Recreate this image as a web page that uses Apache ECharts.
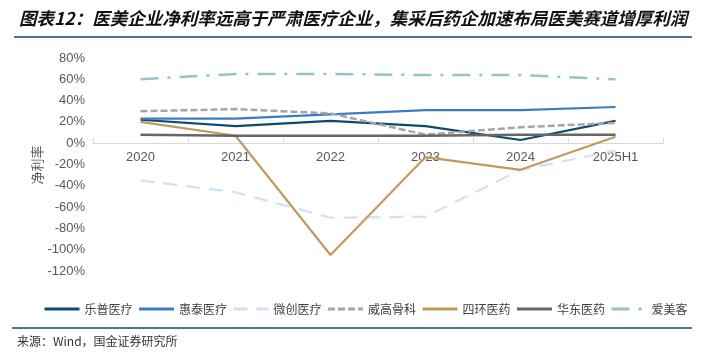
<!DOCTYPE html>
<html><head><meta charset="utf-8">
<script src="https://cdn.jsdelivr.net/npm/echarts@6/dist/echarts.min.js"></script>
<style>html,body{margin:0;padding:0;background:#fff}#c{width:707px;height:357px}</style>
</head><body><div id="c"></div>
<script>
const categories = ['2020','2021','2022','2023','2024','2025H1'];
const lepu = [22, 16, 21, 16, 3, 21];
const huitai = [23, 23, 27, 31, 31, 34];
const weichuang = [-35, -46, -70, -69, -25, -7];
const weigao = [30, 32, 28, 8, 15, 19];
const sihuan = [20, 7, -105, -13, -25, 6];
const huadong = [8, 7, 7, 7, 8, 8];
const aimeike = [60, 65, 65, 64, 64, 60];
const seriesNames = ['乐普医疗','惠泰医疗','微创医疗','威高骨科','四环医药','华东医药','爱美客'];

const styles = [
  {color:'#0d4a6e', type:'solid', width:2.2},
  {color:'#3e7cc0', type:'solid', width:2.2},
  {color:'#cfe2f3', type:[14,9], width:2.2},
  {color:'#a6a6a6', type:[7,3], width:2.5},
  {color:'#c09b5c', type:'solid', width:2.2},
  {color:'#666666', type:'solid', width:2.5},
  {color:'#92c4c9', type:[18,9,3,9], width:2.5}
];
const datas = [lepu, huitai, weichuang, weigao, sihuan, huadong, aimeike];
const series = seriesNames.map((n,i)=>({
  name:n, type:'line', data:datas[i], symbol:'none', smooth:false,
  itemStyle:{color:styles[i].color},
  lineStyle:{color:styles[i].color, type:styles[i].type, width:styles[i].width}
}));

const gridTop = 58, gridBottom = 86, H = 357;
const gridH = H - gridTop - gridBottom;
const zeroOffset = -(gridH * 120 / 200);

const chart = echarts.init(document.getElementById('c'));
chart.setOption({
  animation:false,
  grid:{left:93, right:44, top:gridTop, bottom:gridBottom},
  xAxis:{type:'category', data:categories, boundaryGap:true, position:'bottom', offset:zeroOffset,
    axisLine:{onZero:false, lineStyle:{color:'#d9d9d9', width:1}},
    axisTick:{show:true, inside:true, length:5, lineStyle:{color:'#d9d9d9'}},
    axisLabel:{color:'#595959', fontSize:13, fontFamily:'Liberation Sans, Arial', margin:8}
  },
  yAxis:{type:'value', min:-120, max:80, interval:20,
    axisLine:{show:false}, axisTick:{show:false}, splitLine:{show:false},
    axisLabel:{color:'#595959', fontSize:13, fontFamily:'Liberation Sans, Arial', formatter:'{value}%', margin:8}
  },
  legend:{left:38, top:298, itemWidth:35, itemHeight:14, itemGap:5,
    itemStyle:{opacity:0},
    lineStyle:{width:3},
    textStyle:{color:'#404040', fontSize:12, fontFamily:'Noto Sans CJK SC'},
    data:seriesNames
  },
  series:series,
  graphic:[
    {type:'text', left:19, top:10, style:{text:'图表12：医美企业净利率远高于严肃医疗企业，集采后药企加速布局医美赛道增厚利润', fill:'#111', font:'italic bold 17.5px "Noto Sans CJK SC"'}},
    {type:'line', shape:{x1:14, y1:37, x2:692, y2:37}, style:{stroke:'#0d4a6e', lineWidth:1.5}},
    {type:'text', x:37, y:165, rotation:Math.PI/2, style:{text:'净利率', fill:'#595959', font:'13px "Noto Sans CJK SC"', align:'center', verticalAlign:'middle'}},
    {type:'line', shape:{x1:12, y1:328, x2:692, y2:328}, style:{stroke:'#0d4a6e', lineWidth:1.5}},
    {type:'text', left:17, top:335, style:{text:'来源：Wind，国金证券研究所', fill:'#333', font:'12px "Noto Sans CJK SC"'}}
  ]
});
</script></body></html>
